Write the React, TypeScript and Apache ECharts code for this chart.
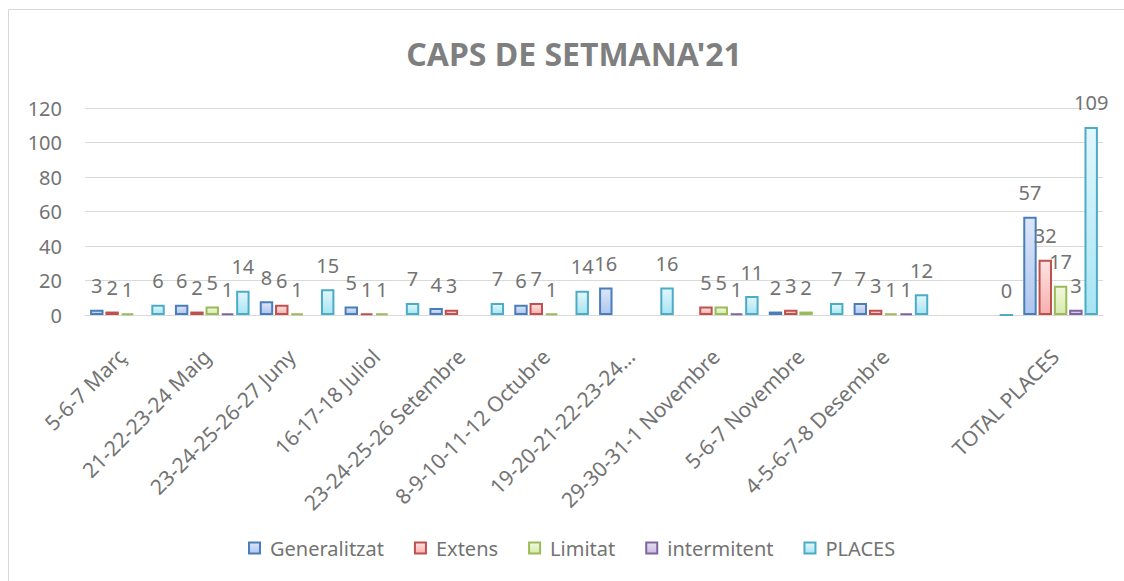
import React, { useEffect, useRef } from "react";
import * as echarts from "echarts";

const categories = [
  "5-6-7 Març",
  "21-22-23-24 Maig",
  "23-24-25-26-27 Juny",
  "16-17-18 Juliol",
  "23-24-25-26 Setembre",
  "8-9-10-11-12 Octubre",
  "19-20-21-22-23-24…",
  "29-30-31-1 Novembre",
  "5-6-7 Novembre",
  "4-5-6-7-8 Desembre",
  "",
  "TOTAL PLACES",
];

const seriesNames = ["Generalitzat", "Extens", "Limitat", "intermitent", "PLACES"];

const generalitzat = [3, 6, 8, 5, 4, 6, 16, null, 2, 7, null, 57];
const extens = [2, 2, 6, 1, 3, 7, null, 5, 3, 3, null, 32];
const limitat = [1, 5, 1, 1, null, 1, null, 5, 2, 1, null, 17];
const intermitent = [null, 1, null, null, null, null, null, 1, null, 1, null, 3];
const places = [6, 14, 15, 7, 7, 14, 16, 11, 7, 12, 0, 109];

const yMin = 0;
const yMax = 120;
const yInterval = 20;

const FONT = "'Noto Sans', sans-serif";
const TEXT = "#737373";

const styles = [
  { border: "#4a7ebb", top: "#dce6f8", bottom: "#aec6ee" },
  { border: "#c0504d", top: "#fde3e2", bottom: "#f6b0ae" },
  { border: "#9bbb59", top: "#f2f9e1", bottom: "#d6eaaa" },
  { border: "#8064a2", top: "#e6dff0", bottom: "#c9bbde" },
  { border: "#4bacc6", top: "#e3f7fc", bottom: "#a8e4f4" },
];

export default function App() {
  const ref = useRef<HTMLDivElement>(null);

  useEffect(() => {
    document.body.style.margin = "0";
    if (!ref.current) return;
    const chart = echarts.init(ref.current, undefined, { renderer: "svg" });
    const data = [generalitzat, extens, limitat, intermitent, places];

    chart.setOption({
      animation: false,
      backgroundColor: "#ffffff",
      title: {
        text: "CAPS DE SETMANA'21",
        left: 569,
        top: 32,
        textAlign: "center",
        textStyle: { fontFamily: FONT, fontSize: 32, fontWeight: "bold", color: "#7f7f7f" },
      },
      graphic: [
        { type: "line", shape: { x1: 8.5, y1: 9.5, x2: 1124, y2: 9.5 }, style: { stroke: "#d9d9d9", lineWidth: 1 } },
        { type: "line", shape: { x1: 8.5, y1: 9.5, x2: 8.5, y2: 581 }, style: { stroke: "#d9d9d9", lineWidth: 1 } },
      ],
      legend: {
        left: 243,
        top: 533,
        itemWidth: 11,
        itemHeight: 11,
        itemGap: 30,
        icon: "rect",
        data: seriesNames,
        textStyle: { fontFamily: FONT, fontSize: 20, color: TEXT, padding: [0, 0, 0, 5] },
      },
      grid: { left: 85, right: 21, top: 108, bottom: 266, containLabel: false },
      xAxis: {
        type: "category",
        data: categories,
        axisTick: { show: false },
        axisLine: { lineStyle: { color: "#d9d9d9", width: 1 } },
        axisLabel: {
          interval: 0,
          rotate: 45,
          margin: 32,
          padding: [0, 8, 0, 0],
          fontFamily: FONT,
          fontSize: 21,
          color: TEXT,
        },
      },
      yAxis: {
        type: "value",
        min: yMin,
        max: yMax,
        interval: yInterval,
        axisLine: { show: false },
        axisTick: { show: false },
        splitLine: { lineStyle: { color: "#d9d9d9", width: 1 } },
        axisLabel: { margin: 23, fontFamily: FONT, fontSize: 20, color: TEXT },
      },
      series: seriesNames.map((name, i) => ({
        name,
        type: "bar",
        data: data[i],
        barGap: "14%",
        barCategoryGap: "12%",
        itemStyle: {
          borderColor: styles[i].border,
          borderWidth: 2,
          color: new echarts.graphic.LinearGradient(0, 0, 0, 1, [
            { offset: 0, color: styles[i].top },
            { offset: 1, color: styles[i].bottom },
          ]),
        },
        label: {
          show: true,
          position: "top",
          distance: 14,
          fontFamily: FONT,
          fontSize: 20,
          color: TEXT,
        },
      })),
    });

    return () => chart.dispose();
  }, []);

  return <div ref={ref} style={{ width: 1124, height: 581 }} />;
}
